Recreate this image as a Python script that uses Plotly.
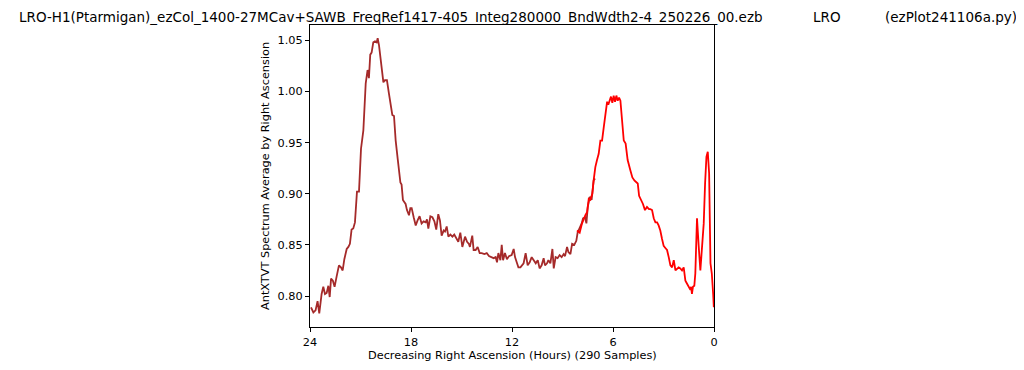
import plotly.graph_objects as go

# Brown series (Right Ascension hours, spectrum average)
ra_brown = [23.94, 23.80, 23.67, 23.55, 23.45, 23.31, 23.21, 23.11, 23.01, 22.91, 22.83, 22.75, 22.64, 22.54,
            22.42, 22.28, 22.16, 22.06, 21.96, 21.82, 21.72, 21.63, 21.53, 21.43, 21.33, 21.21, 21.09, 20.97,
            20.83, 20.69, 20.58, 20.50, 20.42, 20.34, 20.24, 20.14, 20.04, 19.98, 19.90, 19.78, 19.64, 19.55,
            19.43, 19.31, 19.25, 19.11, 19.01, 18.91, 18.79, 18.71, 18.63, 18.56, 18.48, 18.40, 18.32, 18.24,
            18.12, 18.04, 17.96, 17.84, 17.72, 17.61, 17.49, 17.37, 17.25, 17.13, 17.05, 16.97, 16.85, 16.73,
            16.61, 16.50, 16.38, 16.28, 16.18, 16.06, 15.98, 15.88, 15.78, 15.66, 15.54, 15.43, 15.31, 15.19,
            15.07, 14.95, 14.79, 14.67, 14.56, 14.50, 14.36, 14.28, 14.16, 14.04, 13.92, 13.80, 13.64, 13.50,
            13.37, 13.21, 13.09, 12.97, 12.89, 12.81, 12.69, 12.61, 12.53, 12.42, 12.30, 12.18, 12.02, 11.90,
            11.82, 11.70, 11.62, 11.50, 11.39, 11.31, 11.19, 11.07, 10.95, 10.83, 10.71, 10.59, 10.47, 10.36,
            10.24, 10.12, 10.04, 9.92, 9.84, 9.72, 9.60, 9.52, 9.41, 9.29, 9.17, 9.05, 8.93, 8.85, 8.73, 8.65,
            8.53, 8.43, 8.30, 8.18, 8.10, 7.98, 7.86, 7.78, 7.66, 7.58, 7.50, 7.38, 7.27, 7.15, 7.07]
val_brown = [0.789, 0.784, 0.786, 0.795, 0.783, 0.802, 0.809, 0.802, 0.803, 0.810, 0.799, 0.817, 0.815, 0.809,
             0.819, 0.830, 0.828, 0.825, 0.836, 0.846, 0.848, 0.851, 0.865, 0.866, 0.872, 0.902, 0.902, 0.944,
             0.962, 1.008, 1.021, 1.013, 1.036, 1.038, 1.048, 1.049, 1.048, 1.052, 1.045, 1.027, 1.009, 1.011,
             1.011, 0.998, 0.991, 0.977, 0.976, 0.952, 0.934, 0.923, 0.911, 0.909, 0.894, 0.892, 0.890, 0.884,
             0.879, 0.886, 0.886, 0.877, 0.869, 0.874, 0.878, 0.871, 0.873, 0.872, 0.875, 0.866, 0.878, 0.877,
             0.873, 0.865, 0.880, 0.874, 0.859, 0.864, 0.863, 0.868, 0.858, 0.860, 0.858, 0.860, 0.856, 0.853,
             0.862, 0.848, 0.858, 0.853, 0.851, 0.848, 0.859, 0.845, 0.845, 0.848, 0.842, 0.842, 0.841, 0.842,
             0.839, 0.838, 0.837, 0.838, 0.833, 0.842, 0.835, 0.850, 0.835, 0.842, 0.836, 0.839, 0.840, 0.846,
             0.838, 0.832, 0.828, 0.828, 0.830, 0.832, 0.842, 0.830, 0.833, 0.838, 0.835, 0.832, 0.835, 0.827,
             0.830, 0.837, 0.830, 0.832, 0.835, 0.832, 0.846, 0.827, 0.838, 0.837, 0.840, 0.838, 0.841, 0.839,
             0.848, 0.843, 0.841, 0.851, 0.850, 0.854, 0.862, 0.866, 0.871, 0.876, 0.877, 0.871, 0.887, 0.897,
             0.894, 0.913, 0.915]

# Red series
ra_red = [8.14, 7.98, 7.84, 7.74, 7.64, 7.54, 7.44, 7.35, 7.23, 7.15, 7.05, 6.95, 6.85, 6.75, 6.65, 6.55,
          6.45, 6.35, 6.28, 6.20, 6.12, 6.04, 5.96, 5.88, 5.80, 5.72, 5.64, 5.56, 5.46, 5.36, 5.25, 5.13,
          4.97, 4.85, 4.73, 4.61, 4.53, 4.45, 4.33, 4.22, 4.10, 3.98, 3.86, 3.78, 3.68, 3.58, 3.48, 3.38,
          3.29, 3.19, 3.09, 2.99, 2.89, 2.79, 2.69, 2.59, 2.49, 2.39, 2.29, 2.20, 2.10, 2.00, 1.90, 1.80,
          1.70, 1.60, 1.50, 1.40, 1.36, 1.31, 1.25, 1.17, 1.11, 1.01, 0.91, 0.81, 0.71, 0.61, 0.53, 0.45,
          0.37, 0.29, 0.21, 0.13, 0.05, 0.01]
val_red = [0.864, 0.862, 0.871, 0.876, 0.879, 0.882, 0.895, 0.894, 0.900, 0.913, 0.926, 0.933, 0.939, 0.952,
           0.952, 0.965, 0.978, 0.990, 0.987, 0.991, 0.995, 0.989, 0.996, 0.990, 0.996, 0.991, 0.994, 0.991,
           0.975, 0.952, 0.949, 0.933, 0.923, 0.916, 0.913, 0.911, 0.910, 0.898, 0.894, 0.890, 0.884, 0.887,
           0.885, 0.885, 0.884, 0.876, 0.872, 0.872, 0.869, 0.864, 0.856, 0.849, 0.847, 0.845, 0.838, 0.830,
           0.828, 0.835, 0.825, 0.827, 0.828, 0.827, 0.825, 0.828, 0.815, 0.812, 0.809, 0.806, 0.809, 0.802,
           0.809, 0.810, 0.822, 0.876, 0.849, 0.825, 0.848, 0.871, 0.910, 0.936, 0.941, 0.920, 0.832, 0.822,
           0.802, 0.789]

x_ticks = [24, 18, 12, 6, 0]
y_ticks = [0.80, 0.85, 0.90, 0.95, 1.00, 1.05]

title_main = "LRO-H1(Ptarmigan)_ezCol_1400-27MCav+SAWB_FreqRef1417-405_Integ280000_BndWdth2-4_250226_00.ezb"
title_mid = "LRO"
title_right = "(ezPlot241106a.py)"
x_label = "Decreasing Right Ascension (Hours) (290 Samples)"
y_label = "AntXTVT Spectrum Average by Right Ascension"

FONT = "DejaVu Sans, Liberation Sans, sans-serif"
TITLE_SIZE = 13.5
LABEL_SIZE = 11.3

fig = go.Figure()
fig.add_trace(go.Scatter(x=ra_brown, y=val_brown, mode="lines",
                         line=dict(color="#A52A2A", width=1.8), showlegend=False))
fig.add_trace(go.Scatter(x=ra_red, y=val_red, mode="lines",
                         line=dict(color="#FF0000", width=1.8), showlegend=False))

axis_common = dict(showgrid=False, zeroline=False, showline=True, linecolor="black", linewidth=1,
                   mirror=True, ticks="outside", ticklen=4, tickwidth=1, tickcolor="black",
                   tickfont=dict(family=FONT, size=LABEL_SIZE, color="black"))

fig.update_xaxes(range=[24, 0], tickvals=x_ticks, ticktext=[str(v) for v in x_ticks], **axis_common)
fig.update_yaxes(range=[0.7697, 1.0650], tickvals=y_ticks, ticktext=["%.2f" % v for v in y_ticks],
                 **axis_common)

# The page body has an 8px margin, so the figure is placed 8px in from the window edge.
OFF = 8
W, H = 1024 - OFF, 370 - OFF
L, T = 310 - OFF, 25 - OFF
pw, ph = 404, 302
R, B = W - L - pw, H - T - ph

def px_to_paper_x(px):
    return (px - OFF - L) / pw

def px_to_paper_y(py):
    return (T + ph - (py - OFF)) / ph

title_y = px_to_paper_y(OFF)  # top of the figure
annotations = [
    dict(text=title_main, x=px_to_paper_x(18), y=title_y, xanchor="left", yanchor="top", borderpad=0,
         font=dict(family=FONT, size=TITLE_SIZE, color="black")),
    dict(text=title_mid, x=px_to_paper_x(812), y=title_y, xanchor="left", yanchor="top", borderpad=0,
         font=dict(family=FONT, size=TITLE_SIZE, color="black")),
    dict(text=title_right, x=px_to_paper_x(884), y=title_y, xanchor="left", yanchor="top", borderpad=0,
         font=dict(family=FONT, size=TITLE_SIZE, color="black")),
    dict(text=x_label, x=0.5, y=px_to_paper_y(355), xanchor="center", yanchor="middle",
         font=dict(family=FONT, size=LABEL_SIZE, color="black")),
    dict(text=y_label, x=px_to_paper_x(265), y=0.5, xanchor="center", yanchor="middle", textangle=-90,
         font=dict(family=FONT, size=LABEL_SIZE, color="black")),
]
for a in annotations:
    a.update(xref="paper", yref="paper", showarrow=False)

fig.update_layout(width=W, height=H, margin=dict(l=L, r=R, t=T, b=B, autoexpand=False),
                  paper_bgcolor="white", plot_bgcolor="white", annotations=annotations,
                  font=dict(family=FONT, color="black"))

fig.write_html("out.html")
